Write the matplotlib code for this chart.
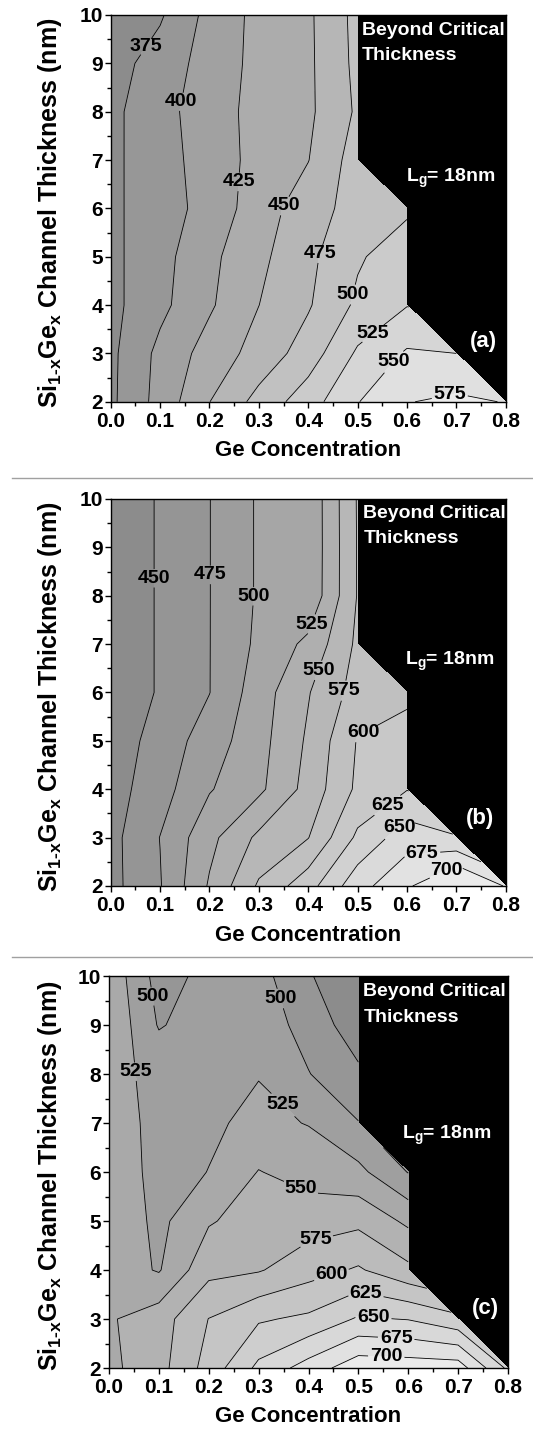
import numpy as np
import matplotlib
matplotlib.use('Agg')
import matplotlib.pyplot as plt
from matplotlib.lines import Line2D

plt.rcParams['font.family'] = ['Liberation Sans', 'DejaVu Sans']
plt.rcParams['font.weight'] = 'bold'
plt.rcParams['axes.labelweight'] = 'bold'
plt.rcParams['mathtext.fontset'] = 'custom'
plt.rcParams['mathtext.rm'] = 'Liberation Sans:bold'
plt.rcParams['mathtext.it'] = 'Liberation Sans:bold'
plt.rcParams['mathtext.bf'] = 'Liberation Sans:bold'
plt.rcParams['mathtext.default'] = 'regular'

nan = np.nan

#-------------------- data --------------------
ge = [0.0, 0.1, 0.2, 0.3, 0.4, 0.5, 0.6, 0.7, 0.8]   # Ge concentration
tch = [2, 3, 4, 5, 6, 7, 8, 9, 10]                     # channel thickness, nm

# rows: thickness 2 -> 10 nm, columns: Ge 0.0 -> 0.8 ; nan = beyond critical thickness
z_a = [
    [369.9, 409.1, 449.6, 483.3, 513.9, 548.9, 574.0, 580.0, 574.0],
    [369.4, 406.6, 435.4, 459.4, 486.7, 528.8, 553.0, 550.0, nan],
    [368.1, 393.6, 421.6, 449.8, 472.5, 504.7, 524.0, nan, nan],
    [368.9, 391.4, 418.9, 444.0, 468.9, 497.1, 513.5, nan, nan],
    [370.1, 388.2, 409.3, 437.7, 463.5, 485.0, 496.0, nan, nan],
    [369.7, 389.3, 411.7, 433.0, 449.3, 486.9, nan, nan, nan],
    [369.2, 390.6, 414.4, 432.5, 445.2, 478.7, nan, nan, nan],
    [364.7, 385.7, 410.4, 432.2, 445.3, 481.4, nan, nan, nan],
    [345.0, 372.0, 407.9, 432.0, 445.7, 482.7, nan, nan, nan],
]
z_b = [
    [442.2, 473.4, 527.9, 578.5, 615.1, 665.6, 695.4, 735.0, 698.0],
    [442.3, 475.5, 517.9, 555.4, 574.2, 630.0, 664.0, 652.0, nan],
    [439.3, 464.8, 498.1, 519.6, 558.7, 605.0, 624.0, nan, nan],
    [435.5, 460.0, 487.2, 515.9, 553.8, 601.6, 618.6, nan, nan],
    [430.4, 452.7, 474.5, 513.0, 548.4, 585.4, 590.0, nan, nan],
    [430.4, 452.7, 474.5, 505.3, 530.8, 580.0, nan, nan, nan],
    [430.4, 452.7, 474.5, 503.0, 505.0, 576.4, nan, nan, nan],
    [430.4, 452.7, 474.5, 503.0, 504.4, 576.5, nan, nan, nan],
    [430.4, 452.7, 474.5, 503.0, 504.5, 577.0, nan, nan, nan],
]
z_c = [
    [544.0, 566.0, 610.0, 656.0, 686.0, 716.0, 714.0, 713.0, 645.0],
    [547.3, 563.3, 600.5, 622.0, 630.0, 653.0, 649.0, 632.0, nan],
    [538.0, 523.0, 568.0, 573.0, 590.0, 603.0, 581.0, nan, nan],
    [545.0, 518.6, 547.7, 561.0, 564.0, 569.0, 545.0, nan, nan],
    [545.0, 515.0, 525.5, 551.0, 540.0, 531.5, 499.0, nan, nan],
    [535.0, 519.0, 521.0, 531.0, 524.0, 501.0, nan, nan, nan],
    [533.0, 518.0, 518.0, 524.0, 501.0, 479.5, nan, nan, nan],
    [546.0, 498.0, 512.0, 515.0, 490.0, 461.0, nan, nan, nan],
    [543.0, 490.0, 507.0, 510.0, 476.0, 466.0, nan, nan, nan],
]

lev_a = [375, 400, 425, 450, 475, 500, 525, 550, 575]
lev_b = [450, 475, 500, 525, 550, 575, 600, 625, 650, 675, 700]
lev_c = [475, 500, 525, 550, 575, 600, 625, 650, 675, 700]

xt = [0.0, 0.1, 0.2, 0.3, 0.4, 0.5, 0.6, 0.7, 0.8]
yt = [2, 3, 4, 5, 6, 7, 8, 9, 10]

#-------------------- layout --------------------
# label anchor (x, y) and inline gap tweak
lab_a = [(0.076, 9.31, -7), (0.14, 8.21, -7), (0.255, 6.55, -7), (0.343, 6.1, -6),
         (0.42, 5.07, -7), (0.481, 4.24, -6), (0.522, 3.52, -3), (0.569, 2.86, -2),
         (0.684, 2.28, 2)]
lab_b = [(0.088, 8.36, -7), (0.2, 8.43, -7), (0.285, 7.99, -7), (0.40, 7.44, -6),
         (0.414, 6.48, -6), (0.475, 6.03, -6), (0.508, 5.24, -3), (0.546, 3.86, 0),
         (0.576, 3.31, 2), (0.63, 2.72, 2), (0.677, 2.38, 2)]
lab_c = [(0.085, 9.58, -7), (0.343, 9.54, -6), (0.055, 8.05, -7), (0.346, 7.34, 0),
         (0.386, 5.70, 2), (0.416, 4.58, 1), (0.446, 3.90, 2), (0.516, 3.60, 2),
         (0.53, 3.05, 2), (0.576, 2.64, 2), (0.556, 2.24, 2)]


def panel(rect, z_tab, lev, lo, hi, labs, tag, txt, ylab_x, xlab_y):
    ax = fig.add_axes(rect)
    ax.set_facecolor('black')
    gx, gy = np.meshgrid(ge, tch)
    z = np.ma.masked_invalid(np.array(z_tab, dtype=float))
    bounds = [lo] + lev + [hi]
    grays = [str(round(g, 3)) for g in np.linspace(0.55, 0.92, len(bounds) - 1)]
    for k in range(2):
        ax.contourf(gx, gy, z, levels=bounds, colors=grays, corner_mask=True)
    cs = ax.contour(gx, gy, z, levels=lev, colors='k', linewidths=0.6, corner_mask=True)
    cs.clabel(lev, fontsize=14, colors='k', fmt='%d', manual=[])
    for x, y, sp in labs:
        cs.add_label_near(x, y, inline=True, inline_spacing=sp)
    for t in cs.labelTexts:
        t.set_rotation(0)

    ax.set_xlim(0, 0.8)
    ax.set_ylim(2, 10)
    ax.set_xticks(xt)
    ax.set_xticklabels(['%.1f' % v for v in xt])
    ax.set_yticks(yt)
    ax.set_xticks(np.arange(0.05, 0.8, 0.1), minor=True)
    ax.set_yticks(np.arange(2.5, 10, 1.0), minor=True)
    ax.tick_params(which='major', direction='out', length=4, width=1, labelsize=15)
    ax.tick_params(which='minor', direction='out', length=2.8, width=1)
    ax.tick_params(axis='x', pad=3.5)
    ax.tick_params(axis='y', pad=1.5)
    for s in ax.spines.values():
        s.set_linewidth(1)

    ax.set_xlabel('Ge Concentration', fontsize=16)
    ax.set_ylabel(r'Si$_{1\text{-}x}$Ge$_x$ Channel Thickness (nm)', fontsize=18)
    ax.xaxis.set_label_coords(0.5, xlab_y)
    ax.yaxis.set_label_coords(ylab_x, 0.49)

    bx, by1, by2, lx, ly, tx, ty = txt
    ax.text(bx, by1, 'Beyond Critical', color='white', fontsize=14, ha='left', va='baseline')
    ax.text(bx, by2, 'Thickness', color='white', fontsize=14, ha='left', va='baseline')
    ax.text(lx, ly, 'L$_g$= 18nm', color='white', fontsize=14, ha='left', va='baseline')
    ax.text(tx, ty, tag, color='white', fontsize=16, ha='center', va='center')
    return ax


fig = plt.figure(figsize=(5.33, 14.42), dpi=100)

panel([0.2077, 0.7214, 0.7411, 0.2682], z_a, lev_a, 330, 620, lab_a, '(a)',
      (0.508, 9.586, 9.07, 0.598, 6.55, 0.755, 3.24), -0.118, -0.10)
panel([0.2077, 0.3856, 0.7411, 0.2684], z_b, lev_b, 420, 760, lab_b, '(b)',
      (0.5116, 9.614, 9.085, 0.596, 6.57, 0.748, 3.40), -0.118, -0.10)
panel([0.2045, 0.0513, 0.7486, 0.2718], z_c, lev_c, 440, 760, lab_c, '(c)',
      (0.51, 9.59, 9.07, 0.587, 6.67, 0.754, 3.22), -0.112, -0.097)

# thin separators between the three panels
for yy in [1 - 478 / 1442, 1 - 957 / 1442]:
    fig.add_artist(Line2D([0.0225, 1.0], [yy, yy], color='#a0a0a0', lw=1))

fig.savefig('out.png', dpi=100)
